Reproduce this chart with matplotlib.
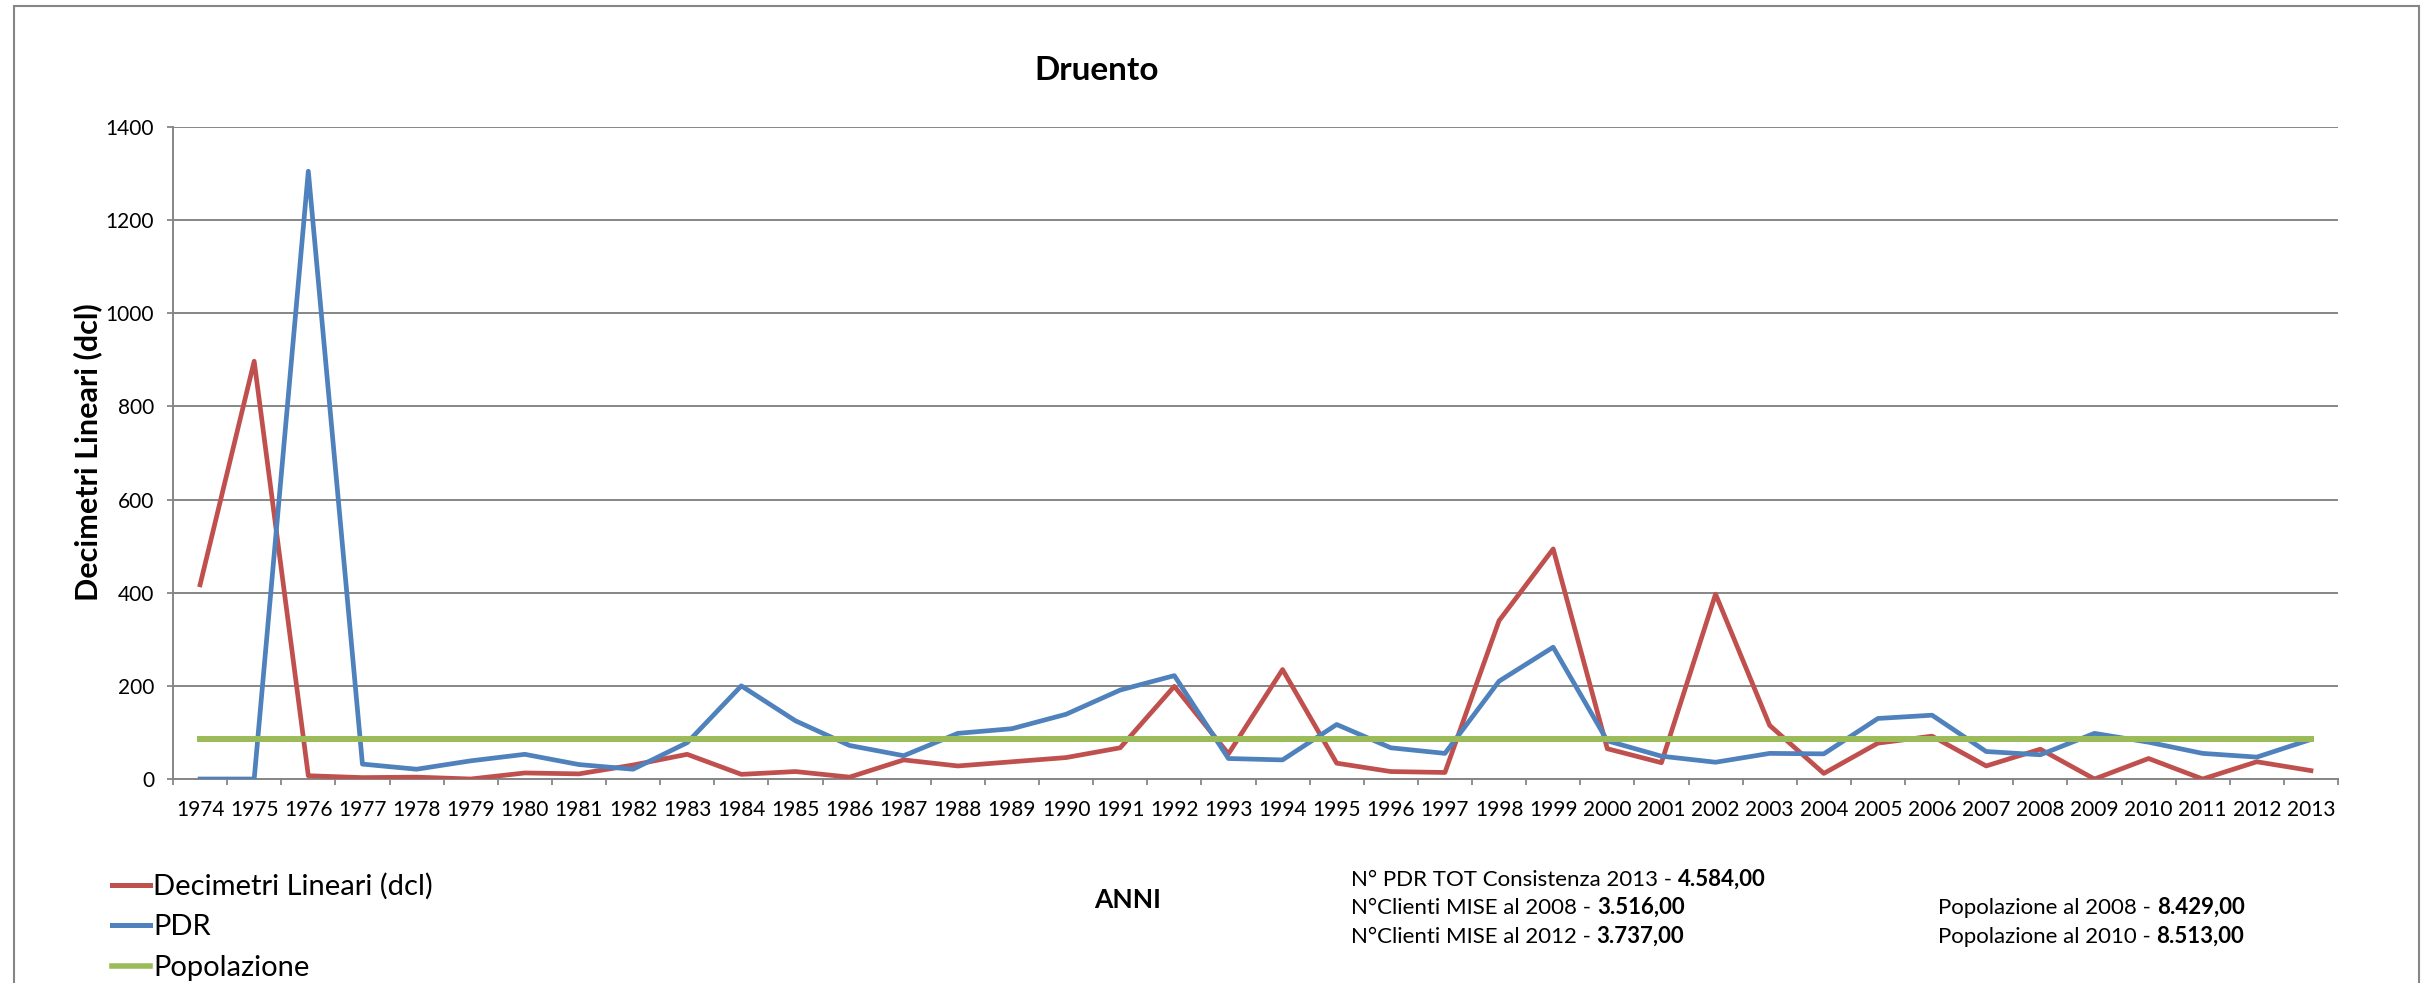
import matplotlib
matplotlib.use("Agg")
import matplotlib.pyplot as plt
from matplotlib.patches import Rectangle
from matplotlib.lines import Line2D

plt.rcParams["font.family"] = ["Lato", "DejaVu Sans"]

anni = list(range(1974, 2014))
decimetri = [417, 897, 7, 3, 4, 0, 13, 11, 30, 53,
             10, 16, 4, 41, 28, 37, 46, 67, 199, 54,
             235, 34, 16, 14, 340, 494, 65, 35, 397, 115,
             12, 77, 92, 28, 64, 0, 44, 0, 37, 18]
pdr = [0, 0, 1305, 32, 21, 39, 53, 31, 21, 78,
       200, 125, 72, 50, 98, 108, 139, 191, 222, 44,
       41, 117, 67, 55, 210, 283, 82, 49, 36, 55,
       54, 130, 137, 59, 52, 98, 79, 55, 47, 85]
popolazione = [85] * len(anni)

W, H = 2433, 983
fig = plt.figure(figsize=(W / 100, H / 100), dpi=100)
ax = fig.add_axes([173 / W, 1 - 779 / H, (2338 - 173) / W, (779 - 127) / H])

rosso, blu, verde = "#C0504D", "#4F81BD", "#9BBB59"
x = list(range(len(anni)))
ax.plot(x, decimetri, color=rosso, lw=3.4, label="Decimetri Lineari (dcl)", zorder=3)
ax.plot(x, pdr, color=blu, lw=3.4, label="PDR", zorder=3)
ax.plot(x, popolazione, color=verde, lw=4.3, label="Popolazione", zorder=3)

grigio = "#868686"
ax.set_xlim(-0.5, len(anni) - 0.5)
ax.set_ylim(0, 1400)
ax.set_yticks(range(0, 1401, 200))
ax.set_xticks(x)
ax.set_xticklabels([str(a) for a in anni])
ax.set_xticks([i - 0.5 for i in range(len(anni) + 1)], minor=True)
ax.tick_params(axis="x", which="major", length=0, pad=15, labelsize=15)
ax.tick_params(axis="x", which="minor", length=4.5, color=grigio, width=1.3)
ax.tick_params(axis="y", length=4.5, color=grigio, width=1.3, pad=9, labelsize=15)
ax.grid(axis="y", color=grigio, lw=1.4)
ax.set_axisbelow(True)
for s in ["top", "right"]:
    ax.spines[s].set_visible(False)
for s in ["left", "bottom"]:
    ax.spines[s].set_color(grigio)
    ax.spines[s].set_linewidth(1.4)

fig.text(1097 / W, 1 - 71 / H, "Druento", ha="center", va="center",
         fontsize=24, fontweight="bold")
fig.text(88 / W, 1 - 452 / H, "Decimetri Lineari (dcl)", ha="center", va="center",
         rotation=90, fontsize=22, fontweight="bold")
fig.text(1128 / W, 1 - 900 / H, "ANNI", ha="center", va="center",
         fontsize=19, fontweight="bold")

handles = [Line2D([], [], color=rosso, lw=3.6),
           Line2D([], [], color=blu, lw=3.6),
           Line2D([], [], color=verde, lw=4.0)]
fig.legend(handles, ["Decimetri Lineari (dcl)", "PDR", "Popolazione"],
           loc="upper left", bbox_to_anchor=(112 / W, 1 - 873 / H),
           frameon=False, fontsize=21, handlelength=1.3, handletextpad=0.12,
           labelspacing=0.5, borderpad=0, borderaxespad=0)

note = [(1351, 880, "N° PDR TOT Consistenza 2013 - ", "4.584,00"),
        (1351, 908, "N°Clienti MISE al 2008 - ", "3.516,00"),
        (1351, 937, "N°Clienti MISE al 2012 - ", "3.737,00"),
        (1938, 908, "Popolazione al 2008 - ", "8.429,00"),
        (1938, 937, "Popolazione al 2010 - ", "8.513,00")]
for nx, ny, testo, valore in note:
    t = fig.text(nx / W, 1 - ny / H, testo, ha="left", va="center", fontsize=16)
    ax.annotate(valore, xy=(1, 0), xycoords=t, ha="left", va="bottom",
                fontsize=16, fontweight="bold", annotation_clip=False)

fig.patches.append(Rectangle((14 / W, -0.1), (2419 - 14) / W, 1.1 - 6 / H,
                             transform=fig.transFigure, fill=False,
                             edgecolor=grigio, lw=1.5))

fig.savefig("out.png", dpi=100)
